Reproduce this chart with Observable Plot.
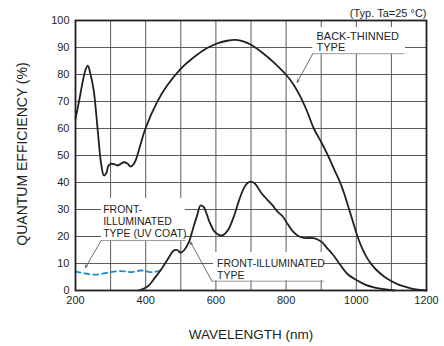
<!DOCTYPE html>
<html>
<head>
<meta charset="utf-8">
<script src="https://cdn.jsdelivr.net/npm/d3@7"></script>
<script src="https://cdn.jsdelivr.net/npm/@observablehq/plot@0.6"></script>
<style>
  html, body { margin: 0; padding: 0; background: #fff; }
  #chart { width: 444px; height: 346px; }
</style>
</head>
<body>
<div id="chart"></div>
<script>
// ---- data ----
const backWl  = [200, 210, 220, 228, 235, 242, 252, 260, 266, 273, 281, 288, 293, 300, 310, 319, 328, 338, 348, 357, 364, 371, 385, 399, 432, 461, 501, 537, 575, 601, 632, 656, 680, 700, 736, 764, 800, 820, 840, 860, 879, 900, 920, 938, 955, 967, 979, 991, 1003, 1017, 1031, 1045, 1059, 1078, 1097, 1120, 1145, 1170, 1200];
const backQE  = [63.6, 70, 77, 81.5, 83.3, 80.5, 74, 64, 55.5, 47, 42.6, 43.5, 46, 46.9, 46.8, 46.3, 46.8, 47.5, 47, 45.9, 46.5, 48.1, 54, 59.9, 69.7, 75.9, 82.3, 86.4, 89.8, 91.4, 92.5, 92.8, 92.2, 91, 87.7, 84.6, 79.9, 76.5, 72, 66.3, 60, 55, 49.8, 44.6, 39.7, 35.3, 30.3, 25.2, 20.2, 15.5, 12, 9.4, 7.4, 5.3, 3.7, 2.2, 1.2, 0.4, 0];

const frontWl = [380, 390, 404, 409, 425, 442, 460, 480, 490, 499, 510, 523, 535, 547, 556, 565, 580, 595, 610, 620, 635, 650, 665, 680, 690, 700, 712, 730, 761, 775, 790, 805, 820, 837, 855, 870, 884, 895, 903, 915, 932, 950, 974, 1003, 1025, 1050, 1084, 1110];
const frontQE = [0, 0.4, 1.4, 1.9, 4.5, 7.4, 11, 14.8, 15, 14, 15, 17.9, 23, 28, 31.5, 31, 26, 22, 20.5, 20.5, 22.5, 27, 33, 38, 39.8, 40.3, 39.5, 36, 31.6, 29.3, 27.5, 24.5, 21.8, 20, 19.4, 19.5, 19.2, 18.5, 17.8, 16, 13.5, 10.3, 6.2, 3.7, 2.2, 1.2, 0.4, 0];

const uvWl = [200, 215, 233, 250, 262, 280, 300, 315, 328, 345, 357, 370, 385, 400, 414, 428, 442];
const uvQE = [7.0, 6.6, 6.2, 5.9, 5.9, 6.3, 6.8, 7.1, 7.2, 7.0, 6.8, 7.0, 7.4, 7.2, 6.8, 7.0, 7.4];

const xGrid = [200, 300, 400, 500, 600, 700, 800, 900, 1000, 1100, 1200];
const xTickLabels = [200, 400, 600, 800, 1000, 1200];
const yTicks = [0, 10, 20, 30, 40, 50, 60, 70, 80, 90, 100];

// annotations (data units)
const annLabels  = ["BACK-THINNED\nTYPE", "FRONT-\nILLUMINATED\nTYPE (UV COAT)", "FRONT-ILLUMINATED\nTYPE"];
const annTextX   = [886.6, 278.9, 603.4];
const annTextY   = [88.6, 19.7, 4.33];      // baseline of last line
const annFont    = [11, 10.5, 10.5];
const annLineH   = [1.06, 1.14, 1.17];
const annBoxX1   = [876, 274, 593];
const annBoxX2   = [1140, 513, 906];
const annBoxY1   = [87.7, 18.5, 3.7];
const annBoxY2   = [97.4, 34.1, 14.1];
const annLineX1  = [876, 273, 589];
const annLineX2  = [1137, 513, 908.5];
const annLineY   = [87.7, 18.5, 3.44];
const annTipX    = [831.6, 228.5, 527.6];
const annTipY    = [77.1, 8.5, 17.9];

const xTitle = "WAVELENGTH (nm)";
const yTitle = "QUANTUM EFFICIENCY (%)";
const note = "(Typ. Ta=25 °C)";

// ---- build ----
const back  = backWl.map((w, i) => ({w, q: backQE[i]}));
const front = frontWl.map((w, i) => ({w, q: frontQE[i]}));
const uv    = uvWl.map((w, i) => ({w, q: uvQE[i]}));
const ann   = annLabels.map((t, i) => ({
  t, x: annTextX[i], y: annTextY[i], fs: annFont[i], lh: annLineH[i],
  bx1: annBoxX1[i], bx2: annBoxX2[i], by1: annBoxY1[i], by2: annBoxY2[i],
  lx1: annLineX1[i], lx2: annLineX2[i], ly: annLineY[i],
  tx: annTipX[i], ty: annTipY[i]
}));

const ink = "#231f20";
const gridColor = "#5a5a5a";

const annTextMarks = ann.map(a => Plot.text([a], {
  x: "x", y: "y", text: "t", textAnchor: "start", lineAnchor: "bottom",
  fontSize: a.fs, lineHeight: a.lh, fill: ink
}));

const chart = Plot.plot({
  width: 444,
  height: 346,
  marginLeft: 75,
  marginRight: 18,
  marginTop: 20,
  marginBottom: 56,
  style: {fontFamily: "'Liberation Sans', Arial, sans-serif", background: "#fff", color: ink},
  x: {domain: [200, 1200]},
  y: {domain: [0, 100]},
  marks: [
    Plot.gridX(xGrid, {stroke: gridColor, strokeOpacity: 1, strokeWidth: 1}),
    Plot.gridY(yTicks, {stroke: gridColor, strokeOpacity: 1, strokeWidth: 1}),
    Plot.rect(ann, {x1: "bx1", x2: "bx2", y1: "by1", y2: "by2", fill: "#fff"}),
    Plot.line(uv, {x: "w", y: "q", stroke: "#1e8ad6", strokeWidth: 1.8, strokeDasharray: "5,4", curve: "catmull-rom"}),
    Plot.line(front, {x: "w", y: "q", stroke: ink, strokeWidth: 1.8, curve: "catmull-rom"}),
    Plot.line(back, {x: "w", y: "q", stroke: ink, strokeWidth: 1.8, curve: "catmull-rom"}),
    Plot.link(ann, {x1: "lx1", x2: "lx2", y1: "ly", y2: "ly", stroke: "#9a9a9a", strokeWidth: 1}),
    Plot.arrow(ann, {x1: "lx1", y1: "ly", x2: "tx", y2: "ty", stroke: "#4a4a4a", strokeWidth: 0.8, headLength: 5, headAngle: 45}),
    ...annTextMarks,
    Plot.frame({stroke: ink, strokeWidth: 1.8}),
    Plot.axisX(xTickLabels, {tickSize: 0, tickPadding: 6, fontSize: 11, label: null, fill: ink, tickFormat: d => String(d)}),
    Plot.axisY(yTicks, {tickSize: 0, tickPadding: 6, fontSize: 11, label: null, fill: ink, tickFormat: d => String(d)}),
    Plot.text([yTitle], {frameAnchor: "left", dx: -53, dy: -1.5, rotate: -90, fontSize: 14, textAnchor: "middle", lineAnchor: "middle", fill: ink}),
    Plot.text([xTitle], {frameAnchor: "bottom", dy: 44.5, fontSize: 13.5, textAnchor: "middle", lineAnchor: "middle", fill: ink}),
    Plot.text([note], {frameAnchor: "top-right", dy: -7, fontSize: 11, textAnchor: "end", lineAnchor: "middle", fill: ink})
  ]
});
document.getElementById("chart").appendChild(chart);
</script>
</body>
</html>
